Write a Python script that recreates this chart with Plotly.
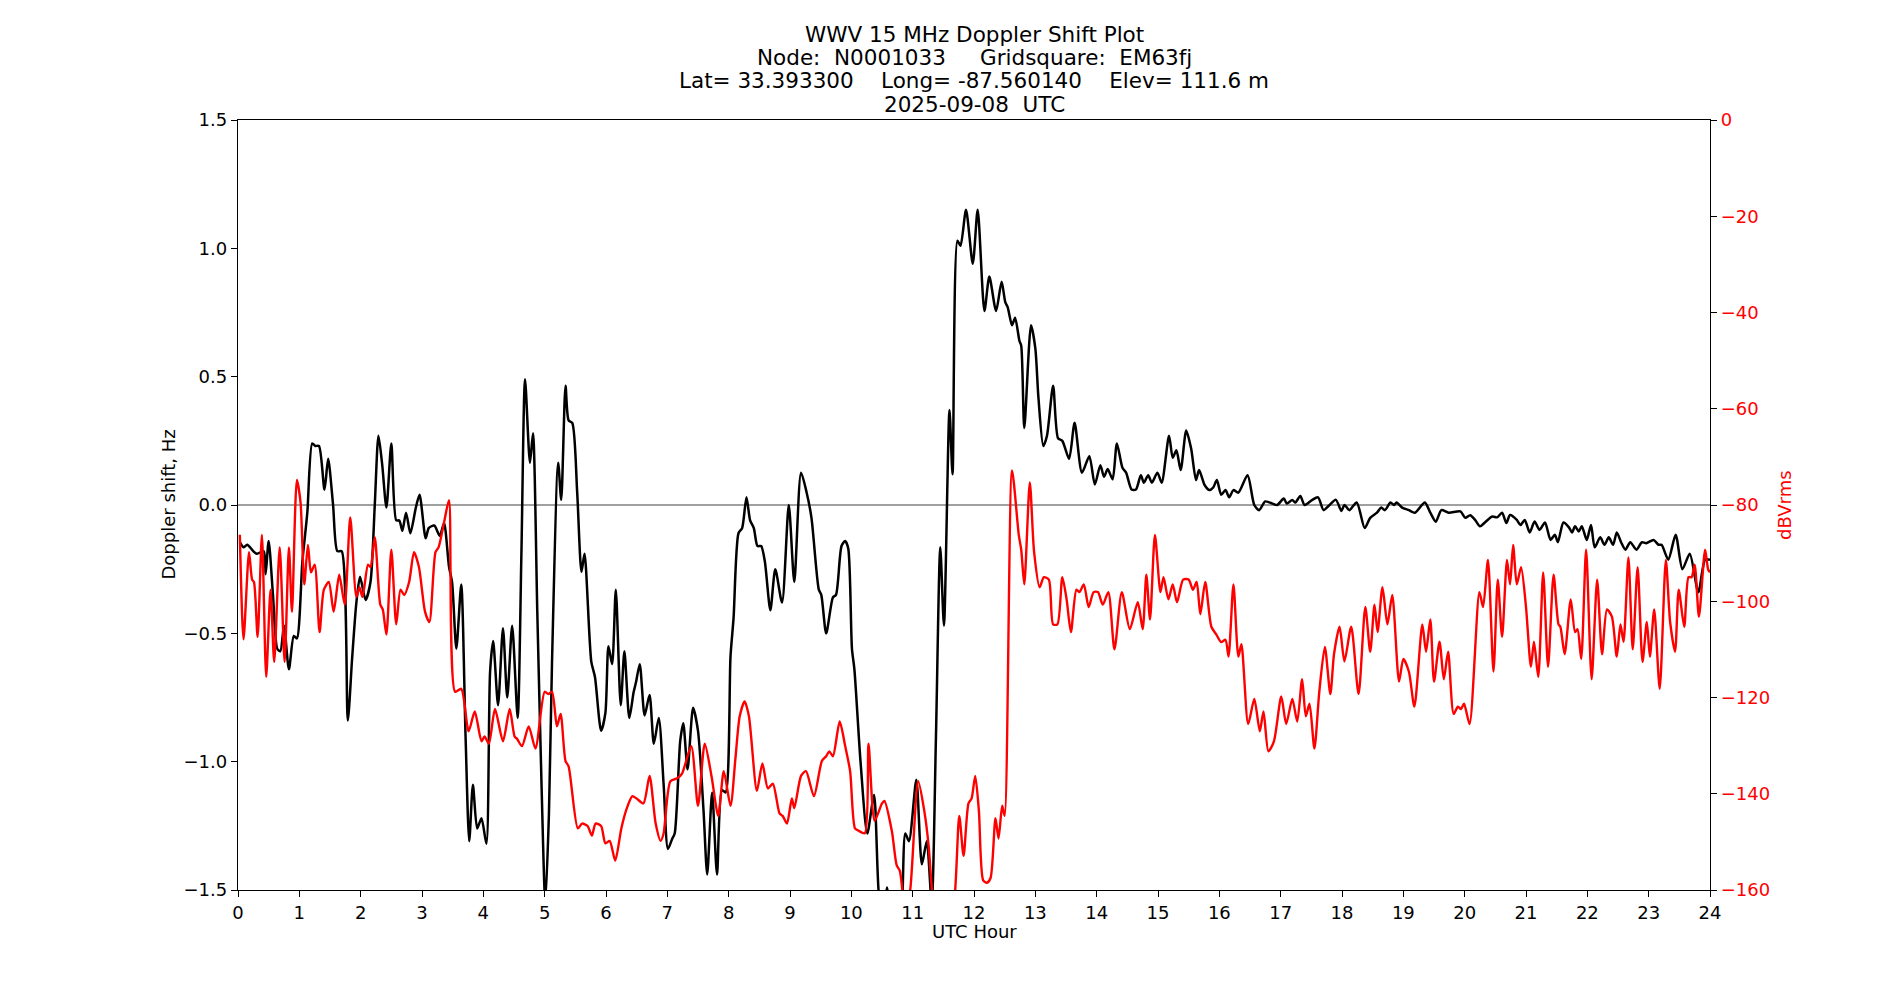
import plotly.graph_objects as go

# ---------------- data ----------------
black_hours = [0.03,0.09,0.15,0.25,0.31,0.42,0.45,0.50,0.57,0.64,0.69,0.75,0.83,0.91,0.96,1.05,1.13,1.21,1.26,1.32,1.41,1.47,1.55,1.62,1.69,1.79,1.86,1.93,1.99,2.08,2.16,2.23,2.29,2.35,2.42,2.50,2.58,2.63,2.68,2.74,2.81,2.90,2.96,3.06,3.11,3.20,3.29,3.36,3.44,3.49,3.56,3.64,3.71,3.77,3.83,3.90,3.97,4.05,4.11,4.16,4.24,4.32,4.39,4.47,4.56,4.62,4.68,4.76,4.81,4.88,4.95,5.01,5.07,5.12,5.22,5.27,5.34,5.39,5.45,5.53,5.60,5.65,5.76,5.82,5.92,5.99,6.04,6.10,6.16,6.24,6.30,6.38,6.45,6.49,6.55,6.63,6.71,6.78,6.86,6.94,7.01,7.08,7.12,7.21,7.26,7.33,7.42,7.50,7.59,7.65,7.73,7.81,7.89,7.95,8.03,8.08,8.16,8.22,8.29,8.35,8.41,8.47,8.53,8.59,8.68,8.76,8.87,8.98,9.07,9.18,9.27,9.35,9.47,9.51,9.59,9.70,9.75,9.84,9.90,9.95,10.01,10.05,10.15,10.26,10.37,10.45,10.52,10.58,10.65,10.75,10.82,10.88,10.94,11.06,11.15,11.23,11.31,11.38,11.45,11.51,11.60,11.65,11.73,11.78,11.87,11.98,12.06,12.17,12.25,12.36,12.45,12.51,12.55,12.62,12.67,12.74,12.77,12.82,12.93,13.00,13.05,13.13,13.19,13.29,13.37,13.44,13.55,13.64,13.76,13.88,13.97,14.06,14.12,14.18,14.26,14.33,14.42,14.48,14.57,14.64,14.72,14.77,14.84,14.90,14.99,15.06,15.18,15.24,15.30,15.37,15.46,15.54,15.62,15.67,15.76,15.84,15.90,15.96,16.03,16.10,16.16,16.23,16.31,16.46,16.57,16.65,16.75,16.94,17.05,17.10,17.19,17.24,17.32,17.39,17.51,17.61,17.70,17.78,17.90,17.99,18.04,18.12,18.24,18.37,18.46,18.57,18.64,18.70,18.79,18.85,18.89,18.98,19.09,19.19,19.35,19.44,19.53,19.62,19.74,19.93,20.01,20.09,20.17,20.25,20.33,20.45,20.53,20.61,20.68,20.74,20.85,20.91,20.98,21.06,21.14,21.22,21.31,21.40,21.47,21.52,21.61,21.70,21.75,21.80,21.86,21.91,21.99,22.06,22.12,22.21,22.28,22.35,22.42,22.48,22.55,22.62,22.70,22.80,22.89,22.96,23.08,23.16,23.21,23.32,23.44,23.55,23.67,23.81,23.92,24.0]
doppler_shift_hz = [-0.145,-0.165,-0.155,-0.18,-0.19,-0.18,-0.27,-0.14,-0.35,-0.56,-0.57,-0.47,-0.64,-0.51,-0.52,-0.22,-0.03,0.24,0.23,0.23,0.06,0.18,0.0,-0.18,-0.18,-0.84,-0.60,-0.38,-0.28,-0.37,-0.30,0.0,0.27,0.16,-0.01,0.24,-0.06,-0.06,-0.10,-0.03,-0.11,-0.01,0.04,-0.13,-0.09,-0.08,-0.12,-0.07,-0.24,-0.30,-0.56,-0.31,-0.90,-1.31,-1.09,-1.26,-1.22,-1.32,-0.65,-0.53,-0.78,-0.48,-0.75,-0.47,-0.83,-0.2,0.49,0.165,0.28,-0.42,-1.1,-1.55,-1.2,-0.61,0.165,0.02,0.465,0.33,0.32,0.05,-0.26,-0.19,-0.61,-0.67,-0.88,-0.81,-0.55,-0.62,-0.33,-0.78,-0.57,-0.83,-0.73,-0.69,-0.62,-0.82,-0.74,-0.93,-0.83,-1.09,-1.34,-1.30,-1.28,-0.92,-0.85,-1.03,-0.79,-0.88,-1.19,-1.44,-1.12,-1.44,-1.11,-1.12,-0.59,-0.44,-0.11,-0.09,0.03,-0.06,-0.09,-0.16,-0.16,-0.22,-0.41,-0.25,-0.38,0.0,-0.30,0.126,0.05,-0.05,-0.33,-0.35,-0.50,-0.36,-0.35,-0.16,-0.14,-0.17,-0.56,-0.64,-1.0,-1.28,-1.13,-1.52,-1.6,-1.49,-1.65,-1.7,-1.6,-1.28,-1.31,-1.07,-1.40,-1.31,-1.55,-0.9,-0.165,-0.47,0.37,0.12,1.03,1.01,1.15,0.94,1.15,0.756,0.89,0.756,0.87,0.79,0.77,0.70,0.73,0.64,0.62,0.30,0.70,0.61,0.42,0.23,0.27,0.465,0.26,0.25,0.18,0.32,0.126,0.19,0.08,0.155,0.11,0.14,0.10,0.24,0.145,0.126,0.06,0.06,0.116,0.087,0.116,0.087,0.126,0.087,0.27,0.184,0.213,0.136,0.29,0.22,0.097,0.136,0.078,0.058,0.068,0.097,0.04,0.058,0.03,0.058,0.048,0.116,0.0,-0.02,0.014,0.0,0.025,0.006,0.019,0.01,0.035,0.0,0.019,0.03,-0.02,-0.004,0.02,-0.023,0.0,-0.02,0.01,-0.09,-0.05,-0.03,-0.01,-0.02,0.01,0.0,0.01,-0.01,-0.02,-0.03,0.01,-0.03,-0.065,-0.02,-0.03,-0.025,-0.05,-0.04,-0.058,-0.083,-0.068,-0.045,-0.048,-0.03,-0.07,-0.039,-0.058,-0.078,-0.058,-0.107,-0.064,-0.097,-0.068,-0.136,-0.116,-0.145,-0.068,-0.087,-0.107,-0.083,-0.103,-0.083,-0.136,-0.078,-0.165,-0.126,-0.155,-0.126,-0.155,-0.107,-0.145,-0.174,-0.145,-0.174,-0.145,-0.149,-0.136,-0.155,-0.155,-0.213,-0.116,-0.25,-0.19,-0.34,-0.213,-0.213]

red_hours = [0.03,0.09,0.18,0.23,0.26,0.32,0.39,0.46,0.53,0.59,0.68,0.76,0.83,0.88,0.96,1.02,1.08,1.14,1.19,1.25,1.33,1.40,1.48,1.56,1.65,1.74,1.83,1.93,1.98,2.03,2.12,2.16,2.23,2.32,2.36,2.42,2.50,2.58,2.65,2.71,2.79,2.87,2.95,3.05,3.12,3.22,3.27,3.36,3.44,3.54,3.64,3.76,3.86,3.97,4.02,4.09,4.19,4.32,4.43,4.51,4.55,4.63,4.74,4.85,5.00,5.06,5.12,5.20,5.26,5.34,5.39,5.54,5.61,5.70,5.77,5.83,5.92,5.99,6.06,6.15,6.25,6.34,6.43,6.50,6.61,6.71,6.81,6.89,6.94,7.05,7.16,7.24,7.39,7.50,7.61,7.72,7.83,7.92,8.03,8.11,8.18,8.26,8.33,8.46,8.55,8.64,8.72,8.83,8.88,8.95,9.03,9.07,9.18,9.26,9.39,9.52,9.59,9.64,9.70,9.81,9.90,9.98,10.06,10.12,10.22,10.28,10.38,10.50,10.54,10.66,10.74,10.79,10.84,10.88,10.96,11.09,11.19,11.26,11.32,11.40,11.55,11.68,11.76,11.83,11.91,11.96,12.02,12.08,12.15,12.21,12.27,12.35,12.40,12.46,12.50,12.62,12.73,12.77,12.82,12.91,12.98,13.07,13.14,13.22,13.29,13.36,13.44,13.51,13.58,13.67,13.72,13.79,13.87,13.95,14.02,14.10,14.19,14.29,14.41,14.54,14.67,14.75,14.81,14.87,14.95,15.04,15.09,15.17,15.24,15.31,15.41,15.50,15.57,15.63,15.69,15.77,15.87,15.95,16.03,16.10,16.15,16.23,16.31,16.36,16.47,16.57,16.66,16.72,16.80,16.89,17.01,17.09,17.19,17.27,17.35,17.41,17.47,17.55,17.63,17.72,17.81,17.87,17.96,18.04,18.15,18.27,18.38,18.46,18.53,18.58,18.66,18.74,18.82,18.93,19.00,19.09,19.18,19.31,19.37,19.44,19.50,19.59,19.66,19.73,19.82,19.89,19.94,19.99,20.08,20.24,20.30,20.38,20.47,20.54,20.61,20.69,20.74,20.79,20.85,20.92,21.00,21.08,21.13,21.20,21.28,21.36,21.45,21.53,21.56,21.63,21.73,21.80,21.84,21.90,21.98,22.07,22.16,22.24,22.32,22.40,22.48,22.54,22.59,22.67,22.74,22.82,22.90,22.97,23.02,23.09,23.18,23.28,23.35,23.43,23.49,23.58,23.65,23.70,23.75,23.82,23.92,23.97,24.0]
dbvrms = [-86.2,-107.9,-89.8,-95.5,-96.0,-107.4,-86.2,-115.7,-97.6,-112.6,-88.8,-112.6,-88.8,-102.2,-74.8,-79.5,-96.5,-88.3,-94.0,-92.4,-106.4,-97.6,-96.0,-102.2,-94.5,-100.7,-82.6,-99.1,-97.1,-99.1,-92.4,-92.9,-86.7,-100.7,-101.7,-106.9,-89.3,-104.8,-97.6,-98.7,-96.0,-89.8,-92.9,-102.2,-104.3,-89.8,-88.8,-83.6,-79.0,-118.8,-118.2,-127.0,-122.9,-129.1,-128.1,-129.6,-122.4,-129.1,-122.4,-128.1,-128.6,-130.1,-126.0,-130.6,-118.8,-119.3,-118.8,-126.0,-123.4,-133.2,-134.3,-147.2,-146.2,-146.7,-148.7,-146.2,-146.7,-150.3,-149.8,-153.9,-147.2,-143.0,-140.5,-141.0,-142.0,-136.3,-146.2,-149.8,-148.2,-137.4,-136.8,-135.8,-130.1,-142.5,-129.6,-136.3,-144.6,-135.3,-142.5,-132.7,-123.9,-120.8,-123.9,-139.4,-133.7,-138.9,-137.9,-144.1,-144.6,-146.2,-141.0,-143.0,-136.3,-135.3,-140.5,-133.2,-132.2,-131.2,-132.2,-125.0,-130.1,-135.3,-147.2,-147.7,-148.2,-129.6,-145.6,-142.0,-141.5,-147.7,-154.9,-156.0,-161.0,-165.0,-160.0,-137.4,-143.6,-150.8,-161.0,-170.0,-170.0,-162.0,-144.6,-152.9,-142.0,-141.0,-136.3,-143.6,-158.0,-158.5,-157.5,-145.1,-149.3,-142.5,-144.6,-72.8,-86.2,-89.3,-96.5,-75.3,-89.8,-97.1,-95.0,-95.5,-104.8,-104.8,-95.0,-99.6,-106.4,-97.6,-98.1,-96.5,-101.2,-98.1,-98.1,-100.7,-98.1,-110.0,-98.1,-105.8,-100.2,-105.8,-94.5,-103.8,-86.2,-98.1,-95.0,-99.6,-96.5,-100.2,-95.5,-95.5,-97.6,-96.0,-102.7,-96.0,-105.3,-106.9,-108.5,-108.0,-111.5,-96.5,-111.5,-108.9,-125.5,-120.3,-127.0,-122.9,-131.2,-129.1,-119.8,-125.5,-120.3,-125.0,-116.2,-123.9,-121.3,-130.6,-118.8,-109.5,-119.3,-111.0,-105.3,-112.5,-105.3,-119.3,-101.2,-110.5,-100.7,-106.4,-97.1,-104.8,-98.7,-116.7,-112.0,-114.6,-121.9,-104.8,-110.5,-103.8,-116.7,-108.4,-116.2,-110.5,-123.4,-121.9,-122.4,-121.3,-125.5,-98.1,-101.2,-91.4,-114.6,-95.5,-107.4,-91.4,-96.5,-88.3,-96.5,-92.9,-101.2,-113.6,-108.4,-115.7,-94.0,-113.6,-94.5,-104.8,-105.3,-111.0,-99.6,-106.4,-105.8,-112.0,-89.3,-116.2,-95.5,-111.0,-101.7,-103.2,-111.5,-104.8,-108.4,-90.9,-110.0,-92.9,-112.6,-104.3,-111.5,-101.7,-118.2,-91.4,-104.3,-110.5,-97.6,-105.3,-95.0,-95.0,-92.4,-103.2,-89.3,-93.4,-94.0]

x_ticks = list(range(0, 25))
left_tick_vals = [1.5, 1.0, 0.5, 0.0, -0.5, -1.0, -1.5]
left_tick_text = ["1.5", "1.0", "0.5", "0.0", "\u22120.5", "\u22121.0", "\u22121.5"]
right_tick_vals = [0, -20, -40, -60, -80, -100, -120, -140, -160]
right_tick_text = ["0"] + ["\u2212" + str(-v) for v in right_tick_vals[1:]]

title_lines = [
    "WWV 15 MHz Doppler Shift Plot",
    "Node:  N0001033     Gridsquare:  EM63fj",
    "Lat= 33.393300    Long= -87.560140    Elev= 111.6 m",
    "2025-09-08  UTC",
]

# ---------------- figure ----------------
FONT = "DejaVu Sans"
TICK_SIZE = 18
TITLE_SIZE = 21.5
W, H = 1900, 1000
ML, MR, MT, MB = 237.5, 190, 120, 110
PH = H - MT - MB

fig = go.Figure()
fig.add_trace(go.Scatter(x=black_hours, y=doppler_shift_hz, mode="lines",
                         line=dict(color="black", width=2.5, shape="spline", smoothing=0.7),
                         name="Doppler shift", yaxis="y", showlegend=False, hoverinfo="x+y"))
fig.add_trace(go.Scatter(x=red_hours, y=dbvrms, mode="lines",
                         line=dict(color="red", width=2.4, shape="spline", smoothing=0.7),
                         name="dBVrms", yaxis="y2", showlegend=False, hoverinfo="x+y"))

fig.add_shape(type="line", xref="paper", x0=0, x1=1, yref="y", y0=0, y1=0,
              line=dict(color="gray", width=1.4), layer="below")

axis_common = dict(showgrid=False, zeroline=False, showline=True, linecolor="black",
                   linewidth=1.3, ticks="outside", ticklen=6, tickwidth=1.3,
                   tickcolor="black", tickfont=dict(family=FONT, size=TICK_SIZE, color="black"))

fig.update_layout(
    width=W, height=H,
    margin=dict(l=ML, r=MR, t=MT, b=MB, pad=0),
    paper_bgcolor="white", plot_bgcolor="white",
    font=dict(family=FONT, size=TICK_SIZE, color="black"),
    xaxis=dict(range=[0, 24], tickvals=x_ticks, ticktext=[str(v) for v in x_ticks],
               mirror=True, **axis_common),
    yaxis=dict(range=[-1.5, 1.5], tickvals=left_tick_vals, ticktext=left_tick_text,
               **axis_common),
    yaxis2=dict(range=[-160, 0], tickvals=right_tick_vals, ticktext=right_tick_text,
                overlaying="y", side="right",
                **{**axis_common, "tickfont": dict(family=FONT, size=TICK_SIZE, color="red")}),
)

def py(p):
    return (H - MB - p) / PH

title_y = [35, 57.5, 80.5, 104]
for txt, yy in zip(title_lines, title_y):
    fig.add_annotation(text=txt, xref="paper", yref="paper", x=0.5, y=py(yy),
                       xanchor="center", yanchor="middle", showarrow=False,
                       font=dict(family=FONT, size=TITLE_SIZE, color="black"))

fig.add_annotation(text="UTC Hour", xref="paper", yref="paper", x=0.5, y=py(931),
                   xanchor="center", yanchor="middle", showarrow=False,
                   font=dict(family=FONT, size=TICK_SIZE, color="black"))
fig.add_annotation(text="Doppler shift, Hz", xref="paper", yref="paper",
                   x=(167 - ML) / (W - ML - MR), y=0.5, textangle=-90,
                   xanchor="center", yanchor="middle", showarrow=False,
                   font=dict(family=FONT, size=TICK_SIZE, color="black"))
fig.add_annotation(text="dBVrms", xref="paper", yref="paper",
                   x=(1784 - ML) / (W - ML - MR), y=0.5, textangle=-90,
                   xanchor="center", yanchor="middle", showarrow=False,
                   font=dict(family=FONT, size=TICK_SIZE, color="red"))

fig.write_html("out.html")
